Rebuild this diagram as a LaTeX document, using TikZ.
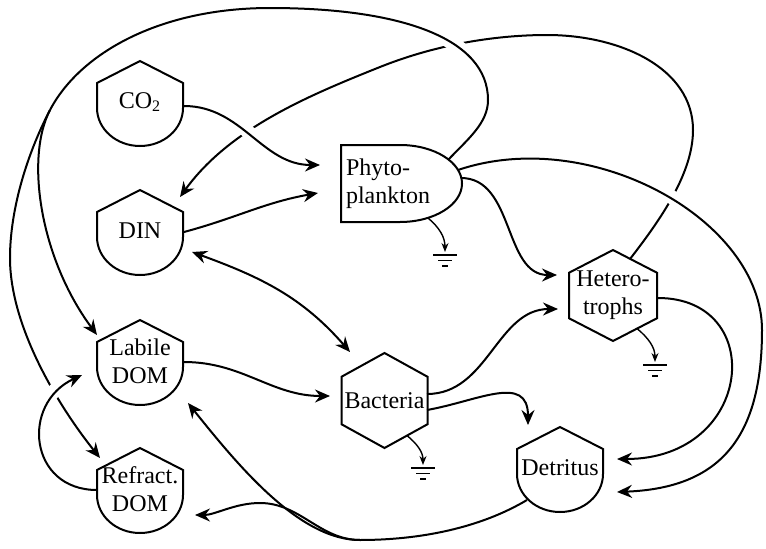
\documentclass[tikz,border=0pt]{standalone}
\usepackage{fontspec}
\setmainfont{Liberation Serif}
\usetikzlibrary{arrows.meta}

\tikzset{
  pool/.style={inner sep=0pt, align=center},
  loss/.style={line width=0.7pt, -{Stealth[length=4.5pt, width=3.5pt, inset=1.5pt]}},
  over/.style={preaction={draw=white, line width=7pt, -, shorten <=8pt, shorten >=8pt}},
  sink/.pic={\draw[line width=0.8pt] (-12,-3) -- (12,-3) (-7,-8.5) -- (7,-8.5) (-3,-14) -- (3,-14);}
}

\begin{document}
\begin{tikzpicture}[x=0.5pt, y=0.5pt, >={Stealth[length=7.5pt, width=6.5pt, inset=2.5pt]}, line width=1pt, font=\fontsize{12}{14}\selectfont]
  \path[use as bounding box] (0,0) rectangle (766,548);

  % pools with roof and round base
  \node[pool] (co2) at (140,446) {CO\textsubscript{2}};
  \node[pool] (din) at (140,317) {DIN};
  \node[pool] (ldom) at (140,187) {Labile\\DOM};
  \node[pool] (rdom) at (140,59) {Refract.\\DOM};
  \node[pool] (detr) at (560,80) {Detritus};
  \foreach \n in {co2,din,ldom,rdom,detr}
    \draw ([shift={(-43,19)}]\n.center) -- ([shift={(0,41)}]\n.center) -- ([shift={(43,19)}]\n.center) -- ([shift={(43,-6)}]\n.center) arc[start angle=0, end angle=-180, x radius=43, y radius=38] -- cycle;

  \node[pool, align=left] (phy) at (388,364) {Phyto-\\plankton};
  \draw ([shift={(12,39)}]phy.center) -- ([shift={(-47,39)}]phy.center) -- ([shift={(-47,-38)}]phy.center) -- ([shift={(12,-38)}]phy.center) arc[start angle=-90, end angle=90, x radius=62, y radius=38.5] -- cycle;

  % hexagons
  \node[pool] (bact) at (384.5,147.5) {Bacteria};
  \node[pool] (het) at (613,252.5) {Hetero-\\trophs};
  \foreach \n/\w/\h in {bact/43/47.5, het/44/45.5}
    \draw ([shift={(0,\h)}]\n.center) -- ([shift={(\w,\h/2)}]\n.center) -- ([shift={(\w,-\h/2)}]\n.center) -- ([shift={(0,-\h)}]\n.center) -- ([shift={(-\w,-\h/2)}]\n.center) -- ([shift={(-\w,\h/2)}]\n.center) -- cycle;

  % losses
  \coordinate (gphy) at (445,296);
  \coordinate (ghet) at (655,186);
  \coordinate (gbac) at (423,83);
  \foreach \g in {gphy,ghet,gbac} \pic at (\g) {sink};
  \draw[loss] ([shift={(40,-34)}]phy.center) to[out=-40, in=90] (gphy);
  \draw[loss] ([shift={(24,-33)}]het.center) to[out=-40, in=90] (ghet);
  \draw[loss] ([shift={(22.5,-35)}]bact.center) to[out=-40, in=90] (gbac);

  % remineralisation
  \draw[->] ([shift={(17,36.5)}]het.center) .. controls (661,329) and (693,375) .. (693,418) .. controls (693,480) and (620,513) .. (547,513) .. controls (500,513) and (440,505) .. (380,481) .. controls (310,453) and (230,420) .. ([shift={(40,34)}]din.center);

  % exudation
  \coordinate (split) at (50,438);
  \draw[over] ([shift={(60,24)}]phy.center) .. controls (468,409) and (488,425) .. (488,448) .. controls (488,510) and (400,540) .. (270,540) .. controls (160,540) and (80,495) .. (split);
  \draw[->] (split) .. controls (25,390) and (40,290) .. ([shift={(-43,26)}]ldom.center);
  \draw[->] (split) .. controls (28,396) and (10,340) .. (10,290) .. controls (10,220) and (60,140) .. ([shift={(-40,31)}]rdom.center);
  \draw[->, over] ([shift={(-43,-1)}]rdom.center) to[out=180, in=205, looseness=1.5] ([shift={(-58,-14)}]ldom.center);

  % uptake
  \draw[->, over] ([shift={(44,-4)}]co2.center) to[out=0, in=180] ([shift={(-68,19)}]phy.center);
  \draw[->] ([shift={(44,-1)}]din.center) to[out=15, in=190] ([shift={(-70,-9)}]phy.center);
  \draw[<->] ([shift={(52,-21)}]din.center) to[out=-20, in=131] ([shift={(-34.5,48.5)}]bact.center);
  \draw[->] ([shift={(44,-1)}]ldom.center) to[out=0, in=180] ([shift={(-54.5,4.5)}]bact.center);

  % grazing and mortality
  \draw[->, over] ([shift={(70,14)}]phy.center) .. controls (591,423) and (762,328) .. (762,218) .. controls (762,110) and (720,60) .. ([shift={(57,-24)}]detr.center);
  \draw[->] ([shift={(73,6)}]phy.center) to[out=0, in=180] ([shift={(-56,20.5)}]het.center);
  \draw[->] ([shift={(42.5,6.5)}]bact.center) to[out=0, in=180] ([shift={(-55,-13.5)}]het.center);
  \draw[->] ([shift={(42.5,-9.5)}]bact.center) to[out=10, in=90, looseness=1.3] ([shift={(-32,43)}]detr.center);
  \draw[->] ([shift={(45,-2.5)}]het.center) .. controls (768,250) and (754,89) .. ([shift={(57,9)}]detr.center);

  % detritus breakdown
  \coordinate (dsplit) at (360,8);
  \draw ([shift={(-33,-32)}]detr.center) .. controls (480,20) and (420,8) .. (dsplit);
  \draw[->] (dsplit) .. controls (300,8) and (240,80) .. ([shift={(48,-42)}]ldom.center);
  \draw[->] (dsplit) .. controls (320,8) and (300,45) .. (260,45) .. controls (235,45) and (215,33) .. ([shift={(55,-26)}]rdom.center);
\end{tikzpicture}
\end{document}
